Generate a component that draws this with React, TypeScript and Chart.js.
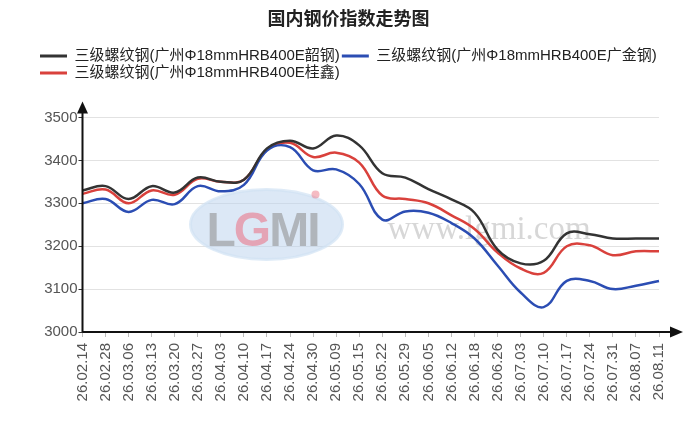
import { useEffect, useRef } from 'react';
import { Chart, registerables } from 'chart.js';

Chart.register(...registerables);

const titleText = '国内钢价指数走势图';

const dates = [
  '26.02.14', '26.02.28', '26.03.06', '26.03.13', '26.03.20', '26.03.27', '26.04.03',
  '26.04.10', '26.04.17', '26.04.24', '26.04.30', '26.05.09', '26.05.15', '26.05.22',
  '26.05.29', '26.06.05', '26.06.12', '26.06.18', '26.06.26', '26.07.03', '26.07.10',
  '26.07.17', '26.07.24', '26.07.31', '26.08.07', '26.08.11',
];

const seriesNames = [
  '三级螺纹钢(广州Φ18mmHRB400E韶钢)',
  '三级螺纹钢(广州Φ18mmHRB400E广金钢)',
  '三级螺纹钢(广州Φ18mmHRB400E桂鑫)',
];

const shaogang = [
  3330, 3340, 3310, 3340, 3325, 3360, 3350, 3355, 3428, 3446, 3428, 3458, 3435,
  3370, 3360, 3333, 3309, 3278, 3192, 3160, 3166, 3230, 3228, 3218, 3218, 3218,
];

const guangjin = [
  3300, 3310, 3280, 3308, 3298, 3340, 3328, 3343, 3423, 3431, 3377, 3379, 3345,
  3262, 3281, 3278, 3254, 3218, 3155, 3092, 3058, 3119, 3119, 3100, 3108, 3119,
];

const guixin = [
  3322, 3332, 3300, 3330, 3320, 3357, 3350, 3355, 3425, 3441, 3408, 3418, 3395,
  3318, 3310, 3300, 3272, 3240, 3185, 3148, 3138, 3200, 3202, 3179, 3188, 3188,
];

const yMin = 3000;
const yMax = 3500;
const yStep = 100;

const FONT = "'Liberation Sans', 'Noto Sans CJK SC', sans-serif";

export default function App() {
  const ref = useRef<HTMLCanvasElement>(null);

  useEffect(() => {
    document.body.style.margin = '0';
    const canvas = ref.current;
    if (!canvas) return;

    const decor = {
      id: 'decor',
      beforeDatasetsDraw(chart: any) {
        const ctx = chart.ctx;
        const a = chart.chartArea;
        ctx.save();
        // LGMI logo watermark
        const cx = a.left + 184;
        const cy = a.top + 107;
        ctx.beginPath();
        ctx.ellipse(cx, cy, 76, 35, 0, 0, Math.PI * 2);
        ctx.fillStyle = 'rgba(185,210,238,0.5)';
        ctx.fill();
        ctx.lineWidth = 3;
        ctx.strokeStyle = 'rgba(210,226,244,0.7)';
        ctx.stroke();
        ctx.font = "bold 48px 'Liberation Sans', sans-serif";
        ctx.textBaseline = 'alphabetic';
        ctx.textAlign = 'left';
        let x = cx - 60;
        const base = cy + 21;
        const parts: [string, string][] = [
          ['L', 'rgba(140,140,140,0.55)'],
          ['G', 'rgba(235,110,130,0.55)'],
          ['M', 'rgba(140,140,140,0.55)'],
          ['I', 'rgba(140,140,140,0.55)'],
        ];
        for (const [ch, col] of parts) {
          ctx.fillStyle = col;
          ctx.fillText(ch, x, base);
          x += ctx.measureText(ch).width - 2;
        }
        ctx.beginPath();
        ctx.arc(cx + 49, cy - 30, 4, 0, Math.PI * 2);
        ctx.fillStyle = 'rgba(235,120,135,0.5)';
        ctx.fill();
        // site watermark
        ctx.font = "33px 'Liberation Serif', serif";
        ctx.fillStyle = 'rgba(160,160,160,0.42)';
        ctx.fillText('www.lgmi.com', a.left + 305, a.top + 121);
        ctx.restore();
      },
      afterDraw(chart: any) {
        const ctx = chart.ctx;
        const a = chart.chartArea;
        ctx.save();
        ctx.strokeStyle = '#111';
        ctx.fillStyle = '#111';
        ctx.lineWidth = 2;
        ctx.beginPath();
        ctx.moveTo(a.left, a.bottom);
        ctx.lineTo(a.left, a.top - 8);
        ctx.moveTo(a.left, a.bottom);
        ctx.lineTo(a.right + 14, a.bottom);
        ctx.stroke();
        // arrows
        ctx.beginPath();
        ctx.moveTo(a.left, a.top - 16);
        ctx.lineTo(a.left - 5.5, a.top - 4);
        ctx.lineTo(a.left + 5.5, a.top - 4);
        ctx.closePath();
        ctx.fill();
        ctx.beginPath();
        ctx.moveTo(a.right + 24, a.bottom);
        ctx.lineTo(a.right + 11, a.bottom - 5.5);
        ctx.lineTo(a.right + 11, a.bottom + 5.5);
        ctx.closePath();
        ctx.fill();
        ctx.restore();
      },
    };

    const mk = (label: string, data: number[], color: string) => ({
      label,
      data,
      borderColor: color,
      backgroundColor: color,
      borderWidth: 2.5,
      pointRadius: 0,
      tension: 0.4,
      fill: false,
    });

    const chart = new Chart(canvas, {
      type: 'line',
      data: {
        labels: dates,
        datasets: [
          mk(seriesNames[0], shaogang, '#333333'),
          mk(seriesNames[1], guangjin, '#2b4db3'),
          mk(seriesNames[2], guixin, '#d9413c'),
        ],
      },
      options: {
        animation: false,
        responsive: true,
        maintainAspectRatio: false,
        layout: { padding: { left: 38, right: 33, top: 0, bottom: 0 } },
        plugins: {
          tooltip: { enabled: false },
          title: {
            display: true,
            text: titleText,
            color: '#222',
            font: { family: FONT, size: 18, weight: 'bold' },
            padding: { top: 9, bottom: 15.9 },
          },
          subtitle: {
            display: true,
            text: '',
            weight: 500,
            font: { family: FONT, size: 10 },
            padding: { top: 0, bottom: 15 },
          } as any,
          legend: {
            display: true,
            position: 'top',
            align: 'start',
            labels: {
              boxWidth: 27,
              boxHeight: 3,
              padding: 2,
              color: '#222',
              font: { family: FONT, size: 15 },
              generateLabels: (c: any) =>
                Chart.defaults.plugins.legend.labels
                  .generateLabels(c)
                  .map((it: any) => ({ ...it, lineWidth: 0, fillStyle: it.strokeStyle })),
            },
          },
        },
        scales: {
          x: {
            type: 'category',
            offset: false,
            border: { display: false },
            grid: {
              display: true,
              drawOnChartArea: false,
              drawTicks: true,
              tickLength: 5,
              tickColor: '#bbb',
            },
            ticks: {
              autoSkip: false,
              maxRotation: 90,
              minRotation: 90,
              padding: 6,
              color: '#555',
              font: { family: FONT, size: 15 },
            },
            afterFit: (s: any) => {
              s.height = 102;
            },
          },
          y: {
            min: yMin,
            max: yMax,
            border: { display: false },
            grid: {
              color: '#e2e2e2',
              lineWidth: 1,
              drawTicks: true,
              tickLength: 4,
              tickColor: '#333',
            },
            ticks: {
              stepSize: yStep,
              padding: 1,
              color: '#555',
              font: { family: FONT, size: 15 },
              callback: (v: any) => String(v),
            },
            afterFit: (s: any) => {
              s.width = 44.5;
            },
          },
        },
      },
      plugins: [decor],
    } as any);

    return () => chart.destroy();
  }, []);

  return (
    <div style={{ position: 'relative', width: 692, height: 434 }}>
      <canvas ref={ref} />
    </div>
  );
}
